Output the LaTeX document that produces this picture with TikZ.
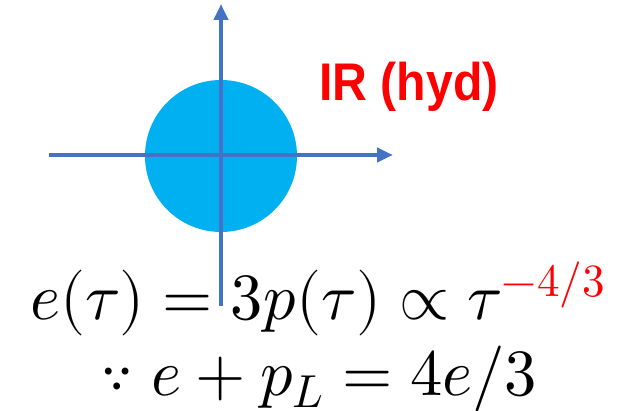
\documentclass[tikz,border=0pt]{standalone}
\usepackage{fontspec}
\usepackage{unicode-math}
\setmathfont{Latin Modern Math}
\setsansfont{Liberation Sans}
\usetikzlibrary{arrows.meta}
\definecolor{axisblue}{HTML}{4472C4}
\definecolor{ballcyan}{HTML}{00B0F0}
\definecolor{hydred}{HTML}{FF0000}
\tikzset{
  axis/.style={draw=axisblue, line width=4pt, -{Triangle[length=16pt,width=14pt]}},
  eqtext/.style={anchor=base west, inner sep=0pt, font=\fontsize{66}{70}\selectfont},
}
\begin{document}
\begin{tikzpicture}[x=1pt,y=-1pt]
\useasboundingbox (0,0) rectangle (625,411);
\fill[ballcyan] (221,156) circle (76);
\coordinate (hl) at (49,155);
\coordinate (hr) at (393,155);
\coordinate (vb) at (221,306);
\coordinate (vt) at (221,4);
\draw[axis] (hl) -- (hr);
\draw[axis] (vb) -- (vt);
\node[anchor=base west, inner sep=0pt, text=hydred, font=\fontsize{53}{56}\selectfont\sffamily\bfseries] (ir) at (319,101) {\scalebox{0.91}[1]{IR (hyd)}};
\node[eqtext] (eq1) at (30,320) {\resizebox{575pt}{\height}{$e(\tau)=3p(\tau)\propto\tau^{\textcolor{hydred}{-4/3}}$}};
\node[eqtext] (eq2) at (100,396) {\resizebox{437pt}{\height}{$\because\; e+p_{\raisebox{5pt}{$\scriptstyle L$}}=4e/3$}};
\end{tikzpicture}
\end{document}
